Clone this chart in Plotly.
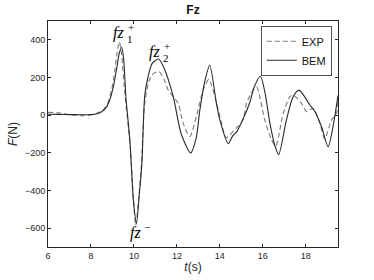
import plotly.graph_objects as go

# BEM (solid) series
bem_t = [6.0, 6.5, 7.0, 7.5, 8.0, 8.3, 8.5, 8.73, 8.9, 9.04, 9.2, 9.32, 9.43, 9.52, 9.63, 9.81, 9.97, 10.12,
         10.25, 10.37, 10.5, 10.65, 10.85, 11.15, 11.4, 11.83, 12.2, 12.64, 12.9, 13.07, 13.3, 13.53, 13.84,
         14.0, 14.39, 14.6, 14.8, 15.08, 15.4, 15.6, 15.89, 16.1, 16.33, 16.57, 16.74, 17.1, 17.41, 17.69,
         18.19, 18.42, 18.73, 19.04, 19.3, 19.5]
bem_f = [5, 4, 3, 2, 3, 8, 18, 44, 90, 150, 250, 330, 361, 300, 90, -130, -446, -575,
         -420, -260, 100, 200, 275, 298, 250, 98, -100, -200, -120, 28, 180, 265, 63,
         -25, -151, -110, -86, -20, 70, 150, 207, 120, -42, -165, -209, -25, 98, 133,
         54, 19, -60, -168, -40, 105]

# EXP (dashed) series
exp_t = [6.0, 6.5, 7.0, 7.5, 8.0, 8.3, 8.57, 8.8, 8.96, 9.1, 9.2, 9.32, 9.42, 9.55, 9.7, 9.85, 9.97, 10.08,
         10.2, 10.35, 10.5, 10.7, 10.9, 11.16, 11.4, 11.6, 11.83, 12.06, 12.29, 12.6, 12.91, 13.22, 13.49,
         13.77, 14.08, 14.28, 14.47, 14.78, 15.08, 15.24, 15.55, 15.71, 16.09, 16.4, 16.6, 16.95, 17.26,
         17.41, 17.8, 18.03, 18.34, 18.65, 18.88, 19.2, 19.43, 19.5]
exp_f = [15, 12, 3, -3, 2, 12, 28, 70, 133, 230, 320, 390, 330, 150, -20, -200, -430, -585,
         -470, -260, 60, 180, 220, 232, 190, 133, 98, 63, -42, -113, -7, 133, 190,
         98, -42, -121, -104, -67, -25, 63, 133, 150, -25, -130, -165, 10, 98,
         107, 63, 19, 37, -42, -126, -25, 10, 90]

x_ticks = [6, 8, 10, 12, 14, 16, 18]
y_ticks = [-600, -400, -200, 0, 200, 400]

# peak labels: (t, F, subscript, superscript)
label_t = [9.30, 10.98, 10.05]
label_f = [438, 338, -626]
label_sub = ["1", "2", ""]
label_sup = ["+", "+", "−"]

fig = go.Figure()
fig.add_trace(go.Scatter(x=exp_t, y=exp_f, mode="lines", name="EXP",
                         line=dict(color="#7a7a7a", width=1.1, dash="5px,3px", shape="spline", smoothing=0.7)))
fig.add_trace(go.Scatter(x=bem_t, y=bem_f, mode="lines", name="BEM",
                         line=dict(color="#2a2a2a", width=1.1, shape="spline", smoothing=0.7)))

main_font = dict(family="Liberation Serif", size=16, color="#000")
small_font = dict(family="Liberation Serif", size=11, color="#000")
for t, f, sb, sp in zip(label_t, label_f, label_sub, label_sup):
    fig.add_annotation(x=t, y=f, text="<i>fz</i>", showarrow=False, font=main_font)
    fig.add_annotation(x=t, y=f, text=sp, showarrow=False, font=small_font, xshift=12, yshift=6)
    if sb:
        fig.add_annotation(x=t, y=f, text=sb, showarrow=False, font=small_font, xshift=11, yshift=-6)

axis_common = dict(showline=True, linecolor="#262626", linewidth=0.8, mirror="ticks", automargin=False,
                   ticks="inside", ticklen=3, tickcolor="#262626", showgrid=False, zeroline=False,
                   tickfont=dict(family="Liberation Sans", size=9, color="#262626"))
fig.update_xaxes(range=[6, 19.5], tickvals=x_ticks, **axis_common,
                 title=dict(text="<i>t</i>(s)", font=dict(family="Liberation Sans", size=12, color="#262626"), standoff=2))
fig.update_yaxes(range=[-700, 500], tickvals=y_ticks, **axis_common,
                 title=dict(text="<i>F</i>(N)", font=dict(family="Liberation Sans", size=12, color="#262626"), standoff=4))

fig.update_layout(
    width=374, height=280,
    margin=dict(l=48, r=36, t=21, b=33),
    paper_bgcolor="white", plot_bgcolor="white",
    title=dict(text="<b>Fz</b>", x=0.516, xanchor="center", y=0.965, yanchor="middle",
               font=dict(family="Liberation Sans", size=12, color="#111")),
    legend=dict(x=0.979, y=0.978, xanchor="right", yanchor="top", bgcolor="white",
                bordercolor="#262626", borderwidth=0.8,
                font=dict(family="Liberation Sans", size=11, color="#111"),
                tracegroupgap=0, itemwidth=30),
    showlegend=True,
)

fig.write_html("out.html", config={"displayModeBar": False},
               post_script="document.body.style.margin='0';")
